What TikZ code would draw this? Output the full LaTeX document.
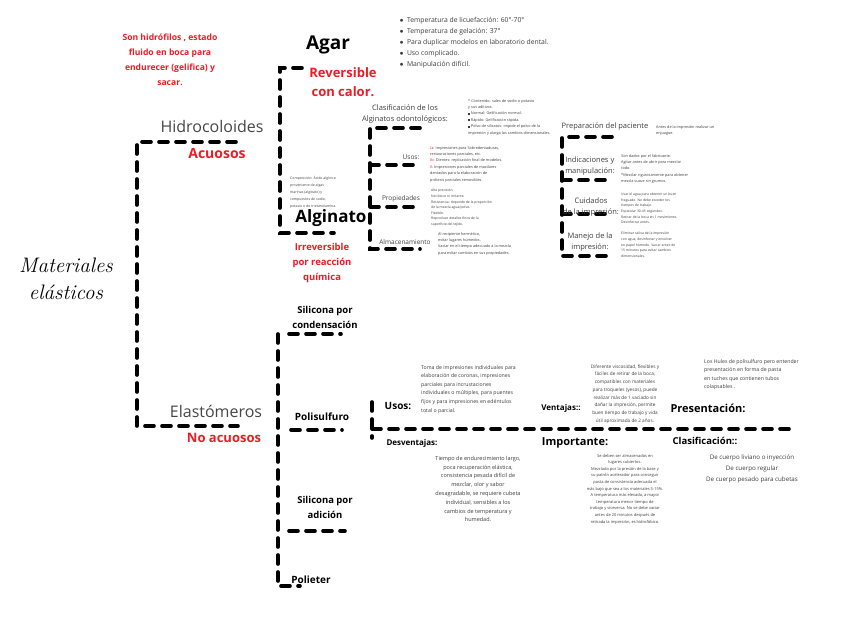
\documentclass[tikz,border=0pt]{standalone}
\usepackage{fontspec}
\setsansfont{Open Sans}
\renewcommand{\familydefault}{\sfdefault}
\usetikzlibrary{positioning}
\definecolor{alert}{RGB}{236,28,36}
\definecolor{inkgray}{RGB}{70,70,70}
\definecolor{notegray}{RGB}{60,60,60}
\newcommand{\sqbul}{\rule{1.8pt}{1.8pt}}

\begin{document}
\begin{tikzpicture}[
    x=1pt, y=-1pt,
    brace/.style={line width=3.6pt, dash pattern=on 9pt off 8pt, line cap=round},
    family/.style={font=\fontsize{16}{18}\selectfont, text=inkgray, inner sep=1pt},
    redtag/.style={font=\fontsize{13}{15}\selectfont\bfseries, text=alert, align=center, inner sep=1pt},
    kind/.style={font=\fontsize{9.5}{15}\selectfont\bfseries, align=center, inner sep=1pt},
    head/.style={font=\fontsize{10}{12}\selectfont\bfseries, inner sep=1pt},
    sub/.style={font=\fontsize{7.5}{11.5}\selectfont, text=notegray, align=center, inner sep=1pt},
    note/.style={font=\fontsize{5.2}{8.6}\selectfont, text=notegray, align=left, inner sep=1pt},
    tiny/.style={font=\fontsize{3.8}{6.4}\selectfont, text=notegray, align=left, inner sep=1pt}
  ]
    \useasboundingbox (0,0) rectangle (848,636);

    % root
    \node[font=\rmfamily\itshape\fontsize{21}{27}\selectfont, align=center] (root) at (66,279) {Materiales\\elásticos};

    \coordinate (mainTop) at (137,142);
    \coordinate (mainBot) at (137,426);
    \coordinate (hidEnd) at (236,142);
    \coordinate (elaEnd) at (238,426);
    \draw[brace] (hidEnd) -- (mainTop) -- (mainBot) -- (elaEnd);

    \node[family] (hidro) at (212,127) {Hidrocoloides};
    \node[redtag, font=\fontsize{14}{16}\selectfont\bfseries] (acuosos) at (217,154) {Acuosos};
    \node[family] (elast) at (216,411) {Elastómeros};
    \node[redtag] (noacu) at (224,438) {No acuosos};

    \node[redtag, font=\fontsize{8.6}{15}\selectfont\bfseries] (hidrofilo) at (170,60) {Son hidrófilos , estado\\fluido en boca para\\endurecer (gelifica) y\\sacar.};

    % hidrocoloides
    \coordinate (agarA) at (280,68);
    \coordinate (agarB) at (302,68);
    \coordinate (algA) at (280,233);
    \coordinate (algB) at (334,233);
    \draw[brace] (agarB) -- (agarA) -- (algA) -- (algB);

    \node[head, font=\fontsize{19}{22}\selectfont\bfseries] (agar) at (328,45) {Agar};
    \node[redtag, font=\fontsize{13}{19.5}\selectfont\bfseries] (reversible) at (343,82) {Reversible\\con calor.};
    \node[head, font=\fontsize{17}{20}\selectfont\bfseries] (alginato) at (331,218) {Alginato};
    \node[redtag, font=\fontsize{9.5}{15}\selectfont\bfseries] (irrev) at (322,263) {Irreversible\\por reacción\\química};
    \node[tiny, font=\fontsize{3.5}{7}\selectfont, anchor=north west] (compos) at (289,175) {Composición: Ácido algínico\\proveniente de algas\\marinas (alginato) y\\compuestos de sodio,\\potasio o de trietanolamina.};

    \node[font=\fontsize{6.8}{11}\selectfont, align=left, text=notegray, anchor=north west] (agarlist) at (396,14) {%
      $\bullet$\enspace Temperatura de licuefacción: 60°-70°\\
      $\bullet$\enspace Temperatura de gelación: 37°\\
      $\bullet$\enspace Para duplicar modelos en laboratorio dental.\\
      $\bullet$\enspace Uso complicado.\\
      $\bullet$\enspace Manipulación difícil.};

    % alginato
    \coordinate (clsTop) at (370,128);
    \coordinate (clsTopEnd) at (420,128);
    \coordinate (usosA) at (370,165);
    \coordinate (usosB) at (420,165);
    \coordinate (propA) at (370,207);
    \coordinate (propB) at (420,207);
    \coordinate (almaA) at (370,249);
    \coordinate (almaB) at (420,249);
    \draw[brace] (clsTopEnd) -- (clsTop) -- (almaA) -- (almaB);
    \draw[brace] (usosA) -- (usosB);
    \draw[brace] (propA) -- (propB);

    \node[sub] (clasalg) at (405,114) {Clasificación de los\\Alginatos odontológicos:};
    \node[sub, font=\fontsize{6.5}{8}\selectfont] (usosalg) at (411,157) {Usos:};
    \node[sub, font=\fontsize{6.5}{8}\selectfont] (propalg) at (401,199) {Propiedades};
    \node[sub, font=\fontsize{6.5}{8}\selectfont] (almaalg) at (405,242) {Almacenamiento};

    \node[tiny, anchor=north west] (clasnote) at (467,98) {* Contenido: sales de sodio o potasio\\y sus aditivos.\\\sqbul\ Normal: Gelificación normal.\\\sqbul\ Rápido: Gelificación rápida.\\\sqbul\ Polvo de silicatos: impide el polvo de la\\impresión y alarga los cambios dimensionales.};
    \node[tiny, anchor=north west] (usosnote) at (429,145) {\textcolor{alert}{Ia:} Impresiones para Sobredentaduras,\\restauraciones parciales, etc.\\\textcolor{alert}{Ib:} Dientes: replicación final de modelos.\\\textcolor{alert}{II:} Impresiones parciales de maxilares\\dentados para la elaboración de\\prótesis parciales removibles.};
    \node[tiny, font=\fontsize{3.4}{5.6}\selectfont, anchor=north west] (propnote) at (430,188) {Alta precisión.\\No tóxico ni irritante.\\Resistencia: depende de la proporción\\de la mezcla agua/polvo.\\Flexible.\\Reproduce detalles finos de la\\superficie del tejido.};
    \node[tiny, anchor=north west] (almanote) at (437,231) {Al recipiente hermético,\\evitar lugares húmedos.\\Vaciar en el tiempo adecuado a la mezcla\\para evitar cambios en sus propiedades.};

    % cuidados
    \coordinate (prepA) at (562,137);
    \coordinate (prepB) at (612,137);
    \coordinate (indiA) at (562,180);
    \coordinate (indiB) at (612,180);
    \coordinate (cuidA) at (562,214);
    \coordinate (cuidB) at (612,214);
    \coordinate (manjA) at (562,256);
    \coordinate (manjB) at (612,256);
    \draw[brace] (prepB) -- (prepA) -- (manjA) -- (manjB);
    \draw[brace] (indiA) -- (indiB);
    \draw[brace] (cuidA) -- (cuidB);

    \node[sub] (prep) at (605,127) {Preparación del paciente};
    \node[sub, align=left] (indi) at (590,166) {Indicaciones y\\manipulación:};
    \node[sub] (cuid) at (591,207) {Cuidados\\de la impresión:};
    \node[sub] (manj) at (590,242) {Manejo de la\\impresión:};

    \node[tiny, anchor=north west] (prepnote) at (655,124) {Antes de la impresión realizar un\\enjuague.};
    \node[tiny, anchor=north west] (indinote) at (620,153) {Son dados por el fabricante.\\Agitar antes de abrir para mezclar\\todo.\\*Mezclar rigurosamente para obtener\\mezcla suave sin grumos.};
    \node[tiny, font=\fontsize{3.4}{5.6}\selectfont, anchor=north west] (cuidnote) at (620,192) {Usar el agua para obtener un buen\\fraguado. No debe exceder los\\tiempos de trabajo.\\Espatular 30-45 segundos.\\Retirar de la boca en 1 movimiento.\\Desinfectar antes.};
    \node[tiny, font=\fontsize{3.4}{5.6}\selectfont, anchor=north west] (manjnote) at (620,231) {Eliminar saliva de la impresión\\con agua, desinfectar y envolver\\en papel húmedo. Vaciar antes de\\15 minutos para evitar cambios\\dimensionales.};

    % elastomeros
    \coordinate (elaTop) at (278,334);
    \coordinate (poliA) at (278,586);
    \coordinate (poliB) at (300,586);
    \coordinate (condA) at (289,334);
    \coordinate (condB) at (341,334);
    \coordinate (polisA) at (291,430);
    \coordinate (polisB) at (342,430);
    \coordinate (adicA) at (289,531);
    \coordinate (adicB) at (345,531);
    \draw[brace] (elaTop) -- (poliA) -- (poliB);
    \draw[brace] (condA) -- (condB);
    \draw[brace] (polisA) -- (polisB);
    \draw[brace] (adicA) -- (adicB);

    \node[kind] (silcond) at (325,317) {Silicona por\\condensación};
    \node[head] (polisul) at (322,417) {Polisulfuro};
    \node[kind] (siladic) at (325,507) {Silicona por\\adición};
    \node[head] (polieter) at (311,580) {Polieter};

    % polisulfuro
    \coordinate (barTop) at (372,402);
    \coordinate (barBot) at (372,438);
    \coordinate (lineA) at (372,429);
    \coordinate (lineB) at (792,429);
    \draw[brace] (barTop) -- (barBot);
    \draw[brace] (lineA) -- (lineB);

    \node[head] (usos) at (398,406) {Usos:};
    \node[head, font=\fontsize{8}{10}\selectfont\bfseries] (ventajas) at (561,408) {Ventajas::};
    \node[head, font=\fontsize{11}{13}\selectfont\bfseries] (present) at (708,408) {Presentación:};
    \node[head, font=\fontsize{8}{10}\selectfont\bfseries] (desv) at (412,443) {Desventajas:};
    \node[head, font=\fontsize{11}{13}\selectfont\bfseries] (import) at (575,443) {Importante:};
    \node[head, font=\fontsize{9.5}{11}\selectfont\bfseries] (clasif) at (705,441) {Clasificación::};

    \node[note, anchor=north west] (usosnote2) at (420,364) {Toma de impresiones individuales para\\elaboración de coronas, impresiones\\parciales para incrustaciones\\individuales o múltiples, para puentes\\fijos y para impresiones en edéntulos\\total o parcial.};
    \node[note, font=\fontsize{4.7}{7.7}\selectfont, align=center] (ventnote) at (625,394) {Diferente viscosidad, flexibles y\\fáciles de retirar de la boca,\\compatibles con materiales\\para troqueles (yesos), puede\\realizar más de 1 vaciado sin\\dañar la impresión, permite\\buen tiempo de trabajo y vida\\útil aproximada de 2 años.};
    \node[note, anchor=north west] (presnote) at (703,358) {Los Hules de polisulfuro pero entender\\presentación en forma de pasta\\en tuches que contienen tubos\\colapsables .};
    \node[note, font=\fontsize{5.5}{8.8}\selectfont, align=center] (desvnote) at (478,489) {Tiempo de endurecimiento largo,\\poca recuperación elástica,\\consistencia pesada difícil de\\mezclar, olor y sabor\\desagradable, se requiere cubeta\\individual, sensibles a los\\cambios de temperatura y\\humedad.};
    \node[note, font=\fontsize{4}{6.6}\selectfont, align=center] (impnote) at (625,489) {Se deben ser almacenados en\\lugares cubiertos.\\Mezclado por la presión de la base y\\su patrón acelerador para conseguir\\pasta de consistencia adecuada el\\más bajo que sea a los materiales 5-15\%.\\A temperatura más elevada, a mayor\\temperatura menor tiempo de\\trabajo y viceversa. No se debe vaciar\\antes de 20 minutos después de\\retirada la impresión, es hidrofóbico.};
    \node[note, font=\fontsize{6.2}{11}\selectfont, align=center] (clasnote2) at (752,469) {De cuerpo liviano o inyección\\De cuerpo regular\\De cuerpo pesado para cubetas};
  \end{tikzpicture}
\end{document}
